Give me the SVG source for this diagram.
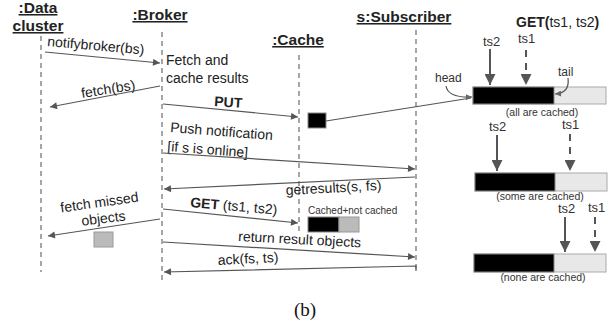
<svg xmlns="http://www.w3.org/2000/svg" width="610" height="325" viewBox="0 0 610 325">
<style>
.hdr{font-family:"Liberation Sans",Arial,sans-serif;font-weight:bold;font-size:15.5px;fill:#222;text-decoration:underline}
.msg{font-family:"Liberation Sans",Arial,sans-serif;font-size:14px;fill:#222}
.b{font-weight:bold}
.lbl{font-family:"Liberation Sans",Arial,sans-serif;font-size:13px;fill:#333}
.sm{font-family:"Liberation Sans",Arial,sans-serif;font-size:10.5px;fill:#333}
.life{stroke:#777;stroke-width:1.3;stroke-dasharray:5,4;fill:none}
.ln{stroke:#555;stroke-width:1.2;fill:none}
.big{stroke:#555;stroke-width:2;fill:none}
.dash{stroke:#555;stroke-width:2;fill:none;stroke-dasharray:7,6}
.blk{fill:#000;stroke:#888;stroke-width:1}
.lt{fill:#e8e8e8;stroke:#aaa;stroke-width:1}
.gr{fill:#bbb;stroke:#999;stroke-width:1}
</style>
<defs>
<marker id="ah" viewBox="0 0 10 10" refX="10" refY="5" markerWidth="9" markerHeight="7" markerUnits="userSpaceOnUse" orient="auto">
<path d="M0,0 L10,5 L0,10 z" fill="#555"/>
</marker>
<marker id="ahb" viewBox="0 0 10 10" refX="10" refY="5" markerWidth="11" markerHeight="11" markerUnits="userSpaceOnUse" orient="auto">
<path d="M0,0 L10,5 L0,10 z" fill="#555"/>
</marker>
<marker id="ahs" viewBox="0 0 10 10" refX="10" refY="5" markerWidth="7" markerHeight="6" markerUnits="userSpaceOnUse" orient="auto">
<path d="M0,0 L10,5 L0,10 z" fill="#666"/>
</marker>
</defs>

<g id="datacluster">
<text class="hdr" x="38" y="13" text-anchor="middle">:Data</text>
<text class="hdr" x="38" y="31" text-anchor="middle">cluster</text>
<line class="life" x1="41" y1="36" x2="41" y2="272"/>
</g>
<g id="broker">
<text class="hdr" x="160" y="20" text-anchor="middle">:Broker</text>
<line class="life" x1="162" y1="32" x2="162" y2="281"/>
<text class="msg" x="166" y="65">Fetch and</text>
<text class="msg" x="166" y="83">cache results</text>
</g>
<g id="cache">
<text class="hdr" x="298" y="45" text-anchor="middle">:Cache</text>
<line class="life" x1="299" y1="55" x2="299" y2="231"/>
<rect class="blk" x="308" y="113" width="18" height="15"/>
<text class="sm" x="308" y="214" style="font-size:10px">Cached+not cached</text>
<rect class="blk" x="308" y="217" width="31" height="15"/>
<rect class="gr" x="339" y="217" width="20" height="15"/>
</g>
<g id="subscriber">
<text class="hdr" x="404" y="22" text-anchor="middle">s:Subscriber</text>
<line class="life" x1="416" y1="30" x2="416" y2="271"/>
</g>
<g id="missed">
<rect class="gr" x="94" y="232" width="19" height="15"/>
</g>

<g id="connectors">
<line class="ln" x1="45" y1="52" x2="160" y2="63" marker-end="url(#ah)"/>
<text class="msg" x="47" y="46" transform="rotate(5 47 46)">notifybroker(bs)</text>
<line class="ln" x1="160" y1="86" x2="50" y2="107" marker-end="url(#ah)"/>
<text class="msg" x="82" y="98" transform="rotate(-9 82 98)">fetch(bs)</text>
<line class="ln" x1="163" y1="104" x2="298" y2="117" marker-end="url(#ah)"/>
<text class="msg b" x="214" y="106" transform="rotate(4 214 106)">PUT</text>
<text class="msg" x="170" y="132" transform="rotate(4.5 170 132)">Push notification</text>
<text class="msg" x="167" y="151" transform="rotate(4.5 167 151)">[if s is online]</text>
<line class="ln" x1="163" y1="153" x2="415" y2="169" marker-end="url(#ah)"/>
<line class="ln" x1="415" y1="177" x2="164" y2="189" marker-end="url(#ah)"/>
<text class="msg" x="286" y="195" transform="rotate(-3 286 195)">getresults(s, fs)</text>
<line class="ln" x1="163" y1="209" x2="298" y2="223" marker-end="url(#ah)"/>
<text class="msg" x="190" y="207" transform="rotate(5 190 207)"><tspan class="b">GET</tspan> (ts1, ts2)</text>
<line class="ln" x1="160" y1="219" x2="48" y2="236" marker-end="url(#ah)"/>
<text class="msg" x="100" y="207" text-anchor="middle" transform="rotate(-8 100 207)">fetch missed</text>
<text class="msg" x="104" y="223" text-anchor="middle" transform="rotate(-7 104 223)">objects</text>
<line class="ln" x1="163" y1="242" x2="415" y2="257" marker-end="url(#ah)"/>
<text class="msg" x="238" y="241" transform="rotate(3 238 241)">return result objects</text>
<polyline class="ln" points="416,271 416,266 164,272" marker-end="url(#ah)"/>
<text class="msg" x="218" y="265" transform="rotate(-3 218 265)">ack(fs, ts)</text>
<line class="ln" x1="326" y1="121" x2="471" y2="98" stroke="#777"/>
</g>

<g id="buffer1">
<text class="msg" x="516" y="27"><tspan class="b">GET(</tspan>ts1, ts2<tspan class="b">)</tspan></text>
<text class="lbl" x="483" y="46">ts2</text>
<text class="lbl" x="518" y="43">ts1</text>
<line class="big" x1="490" y1="49" x2="490" y2="85" marker-end="url(#ahb)"/>
<line class="dash" x1="526" y1="50" x2="526" y2="85" marker-end="url(#ahb)"/>
<rect class="lt" x="473" y="87" width="133" height="17"/>
<rect class="blk" x="473" y="87" width="81" height="17"/>
<text class="lbl" x="435" y="82" style="font-size:12px">head</text>
<path class="ln" d="M446,86 Q448,98 472,97" stroke="#777" marker-end="url(#ahs)"/>
<text class="lbl" x="558" y="76" style="font-size:12px">tail</text>
<path class="ln" d="M568,78 Q570,93 555,94" stroke="#777" marker-end="url(#ahs)"/>
<text class="sm" x="542" y="116" text-anchor="middle">(all are cached)</text>
</g>
<g id="buffer2">
<text class="lbl" x="489" y="131">ts2</text>
<text class="lbl" x="562" y="129">ts1</text>
<line class="big" x1="497" y1="135" x2="497" y2="171" marker-end="url(#ahb)"/>
<line class="dash" x1="570" y1="134" x2="570" y2="171" marker-end="url(#ahb)"/>
<rect class="lt" x="475" y="173" width="132" height="18"/>
<rect class="blk" x="475" y="173" width="80" height="18"/>
<text class="sm" x="540" y="200" text-anchor="middle">(some are cached)</text>
</g>
<g id="buffer3">
<text class="lbl" x="558" y="213">ts2</text>
<text class="lbl" x="588" y="212">ts1</text>
<line class="big" x1="565" y1="217" x2="565" y2="252" marker-end="url(#ahb)"/>
<line class="dash" x1="595" y1="217" x2="595" y2="252" marker-end="url(#ahb)"/>
<rect class="lt" x="474" y="254" width="132" height="18"/>
<rect class="blk" x="474" y="254" width="80" height="18"/>
<text class="sm" x="543" y="281" text-anchor="middle">(none are cached)</text>
</g>
<text x="305" y="316" text-anchor="middle" font-family="Liberation Serif, serif" font-size="19" fill="#111">(b)</text>
</svg>
